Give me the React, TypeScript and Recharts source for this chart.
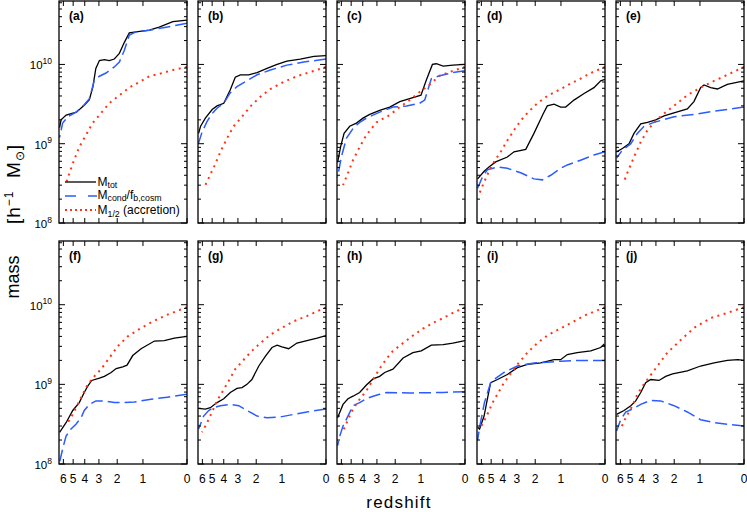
import React from 'react';
import { LineChart, Line, XAxis, YAxis } from 'recharts';

type Pt = [number, number]; // [redshift, mass in h^-1 Msun]

// ---------- tick values ----------
const zTicks = [6, 5, 4, 3, 2, 1, 0];
const massDecades = [1e8, 1e9, 1e10];
const minorMult = [2, 3, 4, 5, 6, 7, 8, 9];
const panelLabels = ['(a)', '(b)', '(c)', '(d)', '(e)', '(f)', '(g)', '(h)', '(i)', '(j)'];

// ---------- panel (a) ----------
const totA: Pt[] = [[6.43, 1.6e9], [6.26, 2.0e9], [5.7, 2.3e9], [4.7, 2.5e9], [4.0, 3.1e9], [3.65, 3.6e9], [3.4, 5.2e9], [3.2, 8.9e9], [2.97, 1.12e10], [2.67, 1.15e10], [2.4, 1.12e10], [2.14, 1.17e10], [1.9, 1.38e10], [1.68, 1.9e10], [1.48, 2.5e10], [1.23, 2.57e10], [0.81, 2.7e10], [0.55, 2.95e10], [0.25, 3.47e10], [0, 3.63e10]];
const condA: Pt[] = [[6.43, 1.2e9], [6.08, 1.82e9], [5.53, 2.19e9], [4.73, 2.5e9], [4.04, 3.1e9], [3.65, 3.7e9], [3.3, 6.3e9], [2.97, 7.1e9], [2.58, 7.8e9], [2.14, 9.3e9], [1.9, 1.07e10], [1.68, 1.51e10], [1.48, 2.34e10], [1.23, 2.57e10], [0.81, 2.7e10], [0.39, 2.95e10], [0, 3.3e10]];
const halfA: Pt[] = [[5.71, 3.2e8], [5.04, 5.6e8], [4.45, 9.1e8], [3.9, 1.29e9], [3.42, 1.82e9], [2.97, 2.3e9], [2.4, 3.24e9], [1.9, 4.07e9], [1.48, 5.1e9], [1.12, 6.0e9], [0.81, 7.1e9], [0.55, 7.6e9], [0.25, 8.5e9], [0, 9.3e9]];

// ---------- panel (b) ----------
const totB: Pt[] = [[6.43, 1.35e9], [6.2, 1.66e9], [5.68, 2.1e9], [5.0, 2.7e9], [4.56, 3.0e9], [4.0, 3.24e9], [3.51, 4.8e9], [3.17, 6.9e9], [2.85, 7.4e9], [2.38, 7.4e9], [1.96, 7.9e9], [1.53, 8.9e9], [1.16, 1.0e10], [0.85, 1.1e10], [0.5, 1.17e10], [0.21, 1.26e10], [0, 1.29e10]];
const condB: Pt[] = [[6.43, 1.02e9], [6.03, 1.41e9], [5.5, 1.91e9], [5.0, 2.4e9], [4.56, 2.8e9], [4.0, 3.24e9], [3.51, 4.4e9], [3.06, 5.25e9], [2.65, 5.9e9], [1.96, 7.4e9], [1.4, 8.5e9], [0.85, 9.8e9], [0.42, 1.07e10], [0, 1.17e10]];
const halfB: Pt[] = [[5.68, 3.0e8], [5.17, 4.1e8], [4.7, 5.6e8], [4.27, 7.9e8], [3.75, 1.17e9], [3.28, 1.66e9], [2.75, 2.19e9], [2.29, 2.95e9], [1.81, 3.9e9], [1.4, 4.9e9], [0.95, 6.0e9], [0.58, 7.1e9], [0.21, 8.3e9], [0, 9.3e9]];

// ---------- panel (c) ----------
const totC: Pt[] = [[6.43, 5.8e8], [6.1, 9.0e8], [5.71, 1.35e9], [5.14, 1.66e9], [4.52, 1.82e9], [3.98, 2.1e9], [3.48, 2.34e9], [2.83, 2.63e9], [2.27, 2.9e9], [1.79, 3.4e9], [1.39, 3.7e9], [1.0, 4.1e9], [0.84, 6.3e9], [0.67, 1.0e10], [0.57, 1.02e10], [0.41, 9.5e9], [0.21, 9.8e9], [0, 1.0e10]];
const condC: Pt[] = [[6.43, 3.8e8], [6.0, 6.8e8], [5.47, 1.17e9], [4.83, 1.55e9], [4.25, 1.86e9], [3.72, 2.1e9], [2.83, 2.5e9], [2.1, 2.9e9], [1.51, 3.0e9], [1.04, 3.24e9], [0.885, 3.55e9], [0.7, 6.6e9], [0.49, 7.2e9], [0.21, 7.9e9], [0, 8.3e9]];
const halfC: Pt[] = [[5.82, 3.0e8], [5.3, 4.3e8], [4.83, 6.2e8], [4.25, 9.1e8], [3.72, 1.29e9], [3.03, 1.86e9], [2.27, 2.3e9], [1.79, 2.9e9], [1.39, 3.55e9], [1.04, 4.5e9], [0.74, 5.6e9], [0.49, 7.2e9], [0.21, 8.3e9], [0, 9.3e9]];

// ---------- panel (d) ----------
const totD: Pt[] = [[6.43, 3.6e8], [5.7, 4.5e8], [5.21, 5.1e8], [4.59, 5.9e8], [3.65, 6.8e8], [3.19, 7.9e8], [2.48, 8.5e8], [2.06, 1.35e9], [1.64, 2.4e9], [1.48, 3.0e9], [1.23, 3.16e9], [1.01, 2.9e9], [0.857, 2.9e9], [0.63, 3.55e9], [0.39, 4.3e9], [0.19, 5.1e9], [0.07, 6.2e9], [0, 6.5e9]];
const condD: Pt[] = [[6.43, 2.75e8], [5.89, 3.8e8], [5.37, 4.7e8], [4.43, 5.1e8], [3.65, 4.9e8], [2.77, 4.3e8], [2.06, 3.6e8], [1.68, 3.5e8], [1.35, 4.0e8], [1.01, 4.9e8], [0.81, 5.4e8], [0.47, 6.2e8], [0.19, 7.2e8], [0, 7.9e8]];
const halfD: Pt[] = [[6.26, 2.3e8], [5.7, 3.3e8], [5.21, 4.5e8], [4.74, 5.9e8], [4.16, 7.9e8], [3.65, 1.1e9], [3.19, 1.48e9], [2.77, 1.95e9], [2.39, 2.45e9], [1.9, 3.24e9], [1.48, 4.0e9], [1.01, 4.9e9], [0.71, 5.75e9], [0.47, 6.6e9], [0.25, 7.8e9], [0, 9.3e9]];

// ---------- panel (e) ----------
const totE: Pt[] = [[6.43, 7.9e8], [5.78, 8.7e8], [5.11, 1.0e9], [4.65, 1.35e9], [4.08, 1.78e9], [3.57, 1.86e9], [3.01, 2.0e9], [2.52, 2.24e9], [2.01, 2.45e9], [1.44, 2.75e9], [1.2, 3.4e9], [0.98, 5.1e9], [0.875, 5.5e9], [0.69, 5.1e9], [0.52, 4.9e9], [0.3, 5.6e9], [0, 6.2e9]];
const condE: Pt[] = [[6.43, 6.6e8], [5.78, 8.3e8], [4.94, 1.0e9], [4.36, 1.35e9], [3.83, 1.66e9], [3.12, 1.86e9], [2.01, 2.19e9], [1.2, 2.34e9], [0.6, 2.57e9], [0.3, 2.7e9], [0, 2.9e9]];
const halfE: Pt[] = [[5.67, 3.2e8], [5.27, 4.3e8], [4.65, 6.8e8], [4.08, 1.05e9], [3.57, 1.48e9], [3.01, 1.95e9], [2.52, 2.4e9], [2.01, 3.0e9], [1.44, 4.1e9], [0.98, 5.1e9], [0.6, 6.2e9], [0.3, 7.4e9], [0, 9.3e9]];

// ---------- panel (f) ----------
const totF: Pt[] = [[6.43, 2.5e8], [5.71, 3.3e8], [5.04, 4.7e8], [4.45, 5.9e8], [4.04, 7.9e8], [3.77, 9.5e8], [3.48, 1.12e9], [2.97, 1.2e9], [2.67, 1.26e9], [2.3, 1.41e9], [2.05, 1.58e9], [1.75, 1.66e9], [1.57, 1.74e9], [1.35, 2.3e9], [1.06, 2.8e9], [0.67, 3.5e9], [0.43, 3.55e9], [0.22, 3.8e9], [0, 4.0e9]];
const condF: Pt[] = [[6.43, 1.05e8], [6.08, 1.55e8], [5.71, 2.24e8], [5.21, 2.75e8], [4.74, 3.16e8], [4.3, 3.8e8], [4.04, 4.7e8], [3.65, 5.6e8], [3.19, 6.2e8], [2.67, 6.2e8], [2.14, 5.9e8], [1.68, 5.9e8], [1.29, 6.0e8], [0.76, 6.5e8], [0.36, 6.9e8], [0, 7.5e8]];
const halfF: Pt[] = [[5.53, 3.3e8], [5.04, 4.2e8], [4.59, 5.6e8], [4.16, 7.5e8], [3.77, 1.0e9], [3.3, 1.26e9], [2.87, 1.55e9], [2.4, 2.14e9], [1.98, 3.0e9], [1.54, 4.0e9], [1.06, 5.1e9], [0.67, 6.3e9], [0.36, 7.5e9], [0, 9.3e9]];

// ---------- panel (g) ----------
const totG: Pt[] = [[6.43, 5.0e8], [5.68, 4.9e8], [5.17, 5.1e8], [4.56, 5.9e8], [4.0, 6.6e8], [3.51, 7.9e8], [3.06, 8.9e8], [2.75, 9.1e8], [2.47, 1.0e9], [2.21, 1.15e9], [1.88, 1.7e9], [1.6, 2.24e9], [1.34, 2.9e9], [1.16, 3.1e9], [1.0, 2.95e9], [0.8, 2.8e9], [0.58, 3.3e9], [0.35, 3.55e9], [0.15, 3.8e9], [0, 4.1e9]];
const condG: Pt[] = [[6.43, 2.75e8], [5.86, 4.0e8], [5.34, 4.7e8], [4.86, 5.1e8], [4.27, 5.4e8], [3.51, 5.6e8], [2.95, 5.4e8], [2.47, 4.7e8], [1.96, 4.0e8], [1.53, 3.8e8], [1.05, 3.9e8], [0.66, 4.2e8], [0.35, 4.5e8], [0, 4.9e8]];
const halfG: Pt[] = [[6.03, 2.5e8], [5.5, 3.3e8], [5.01, 4.5e8], [4.56, 6.2e8], [4.14, 7.9e8], [3.63, 1.1e9], [3.17, 1.55e9], [2.65, 2.04e9], [2.21, 2.63e9], [1.81, 3.3e9], [1.4, 4.2e9], [1.05, 5.0e9], [0.66, 6.2e9], [0.35, 7.2e9], [0, 9.3e9]];

// ---------- panel (h) ----------
const totH: Pt[] = [[6.43, 3.8e8], [5.82, 5.6e8], [5.31, 6.6e8], [4.83, 7.1e8], [4.25, 7.9e8], [3.72, 9.8e8], [3.25, 1.17e9], [2.83, 1.26e9], [2.54, 1.41e9], [2.11, 1.55e9], [1.65, 2.14e9], [1.27, 2.5e9], [0.99, 2.63e9], [0.7, 3.1e9], [0.41, 3.16e9], [0.21, 3.3e9], [0, 3.55e9]];
const condH: Pt[] = [[6.43, 1.7e8], [6.18, 2.24e8], [5.82, 3.0e8], [5.31, 4.0e8], [4.83, 5.4e8], [4.25, 5.9e8], [3.72, 6.6e8], [3.25, 7.1e8], [2.83, 7.5e8], [2.44, 7.9e8], [1.39, 7.8e8], [0.41, 7.9e8], [0, 8.1e8]];
const halfH: Pt[] = [[5.82, 2.6e8], [5.31, 3.6e8], [4.83, 4.9e8], [4.25, 6.5e8], [3.72, 8.3e8], [3.25, 1.15e9], [2.83, 1.58e9], [2.44, 2.1e9], [2.11, 2.63e9], [1.65, 3.3e9], [1.27, 4.1e9], [0.94, 5.0e9], [0.66, 5.9e9], [0.41, 6.8e9], [0.21, 7.9e9], [0, 9.3e9]];

// ---------- panel (i) ----------
const totI: Pt[] = [[6.43, 2.9e8], [6.2, 2.75e8], [5.71, 4.0e8], [5.44, 5.9e8], [5.05, 1.05e9], [4.43, 1.15e9], [3.65, 1.33e9], [2.97, 1.62e9], [2.39, 1.78e9], [1.75, 1.86e9], [1.23, 2.04e9], [1.01, 2.04e9], [0.81, 2.37e9], [0.55, 2.5e9], [0.25, 2.63e9], [0.07, 2.9e9], [0.02, 3.16e9], [0, 3.0e9]];
const condI: Pt[] = [[6.43, 2.0e8], [6.2, 2.9e8], [5.67, 5.9e8], [5.05, 1.05e9], [4.74, 1.15e9], [3.9, 1.41e9], [2.97, 1.7e9], [2.05, 1.86e9], [1.48, 1.9e9], [1.01, 1.95e9], [0.47, 2.0e9], [0, 2.0e9]];
const halfI: Pt[] = [[6.0, 3.0e8], [5.44, 4.0e8], [4.87, 5.9e8], [3.9, 1.05e9], [2.97, 1.78e9], [2.39, 2.5e9], [1.9, 3.3e9], [1.48, 4.1e9], [1.17, 4.7e9], [0.71, 5.9e9], [0.36, 7.4e9], [0, 9.3e9]];

// ---------- panel (j) ----------
const totJ: Pt[] = [[6.43, 4.2e8], [5.61, 4.7e8], [4.94, 5.4e8], [4.5, 6.2e8], [4.08, 7.9e8], [3.7, 1.05e9], [3.34, 1.15e9], [2.81, 1.12e9], [2.43, 1.26e9], [2.08, 1.35e9], [1.44, 1.48e9], [0.98, 1.7e9], [0.6, 1.86e9], [0.3, 2.0e9], [0.1, 2.04e9], [0, 2.0e9]];
const condJ: Pt[] = [[6.43, 2.6e8], [5.97, 3.6e8], [5.44, 4.5e8], [4.79, 4.9e8], [4.08, 5.6e8], [3.34, 6.3e8], [2.71, 6.2e8], [2.01, 5.4e8], [1.44, 4.5e8], [0.98, 3.6e8], [0.6, 3.3e8], [0.3, 3.16e8], [0, 3.0e8]];
const halfJ: Pt[] = [[5.97, 2.75e8], [5.44, 3.8e8], [4.79, 5.4e8], [4.36, 7.5e8], [3.94, 9.5e8], [3.57, 1.15e9], [2.91, 1.7e9], [2.34, 2.5e9], [1.71, 3.6e9], [1.2, 5.1e9], [0.69, 6.8e9], [0.3, 7.9e9], [0, 9.3e9]];

const totAll = [totA, totB, totC, totD, totE, totF, totG, totH, totI, totJ];
const condAll = [condA, condB, condC, condD, condE, condF, condG, condH, condI, condJ];
const halfAll = [halfA, halfB, halfC, halfD, halfE, halfF, halfG, halfH, halfI, halfJ];

// ---------- layout / style ----------
const FONT = '"Liberation Sans", Arial, Helvetica, sans-serif';
const COLS = [59, 198, 337, 477, 616];
const ROWS = [{ top: 1, h: 222 }, { top: 241, h: 223 }];
const PW = 128;
const X_MAX = 0.875; // log10(1+z) at left edge
const M_MIN = 1e8;
const M_MAX = Math.pow(10, 10.8);
const C_TOT = '#000000';
const C_COND = '#2b5cff';
const C_HALF = '#ff3414';

const xTickVals = zTicks.map((z) => Math.log10(1 + z));
const yTickVals: number[] = [];
massDecades.forEach((d) => {
  yTickVals.push(d);
  minorMult.forEach((m) => {
    if (d * m <= M_MAX) yTickVals.push(d * m);
  });
});

function buildRows(i: number) {
  const rows: any[] = [];
  totAll[i].forEach(([z, m]) => rows.push({ x: Math.log10(1 + z), tot: m }));
  condAll[i].forEach(([z, m]) => rows.push({ x: Math.log10(1 + z), cond: m }));
  halfAll[i].forEach(([z, m]) => rows.push({ x: Math.log10(1 + z), half: m }));
  rows.sort((a, b) => a.x - b.x);
  return rows;
}

const XTick = (props: any) => {
  const { x, y, payload, h, showLabel } = props;
  const z = Math.round(Math.pow(10, payload.value) - 1);
  return (
    <g>
      <line x1={x} y1={y} x2={x} y2={y - 5} stroke="#000" strokeWidth={1} />
      <line x1={x} y1={y - h} x2={x} y2={y - h + 5} stroke="#000" strokeWidth={1} />
      {showLabel && (
        <text x={x} y={y + 18.5} textAnchor="middle" fontSize={12} fontFamily={FONT} fill="#000">
          {z}
        </text>
      )}
    </g>
  );
};

const YTick = (props: any) => {
  const { x, y, payload, w, showLabel } = props;
  const lg = Math.log10(payload.value);
  const e = Math.round(lg);
  const major = Math.abs(lg - e) < 1e-6;
  const len = major ? 6 : 3;
  return (
    <g>
      <line x1={x} y1={y} x2={x + len} y2={y} stroke="#000" strokeWidth={1} />
      <line x1={x + w} y1={y} x2={x + w - len} y2={y} stroke="#000" strokeWidth={1} />
      {major && showLabel && (
        <text x={x - 7} y={y + 5} textAnchor="end" fontSize={11.5} fontFamily={FONT} fill="#000">
          10
          <tspan dy={-5.5} fontSize={8.5}>{e}</tspan>
        </text>
      )}
    </g>
  );
};

function Panel({ i }: { i: number }) {
  const col = i % 5;
  const row = Math.floor(i / 5);
  const { top, h } = ROWS[row];
  const left = COLS[col];
  // 1px axis strip on the left and bottom so the axes render; plot area = panel rect
  return (
    <div style={{ position: 'absolute', left: left - 1, top, width: PW + 1, height: h + 1 }}>
      <LineChart width={PW + 1} height={h + 1} data={buildRows(i)} margin={{ top: 0, right: 0, bottom: 0, left: 0 }}>
        <XAxis
          dataKey="x"
          type="number"
          domain={[0, X_MAX]}
          reversed
          allowDataOverflow
          ticks={xTickVals}
          interval={0}
          height={1}
          tickSize={0}
          tickMargin={0}
          axisLine={false}
          tickLine={false}
          tick={(tp: any) => <XTick {...tp} h={h} showLabel={row === 1} />}
        />
        <YAxis
          type="number"
          scale="log"
          domain={[M_MIN, M_MAX]}
          allowDataOverflow
          ticks={yTickVals}
          interval={0}
          width={1}
          tickSize={0}
          tickMargin={0}
          axisLine={false}
          tickLine={false}
          tick={(tp: any) => <YTick {...tp} w={PW} showLabel={col === 0} />}
        />
        <Line dataKey="tot" stroke={C_TOT} strokeWidth={1.3} dot={false} connectNulls isAnimationActive={false} />
        <Line dataKey="cond" stroke={C_COND} strokeWidth={1.5} strokeDasharray="12 5" dot={false} connectNulls isAnimationActive={false} />
        <Line dataKey="half" stroke={C_HALF} strokeWidth={2} strokeDasharray="2 4.5" dot={false} connectNulls isAnimationActive={false} />
      </LineChart>
    </div>
  );
}

function Overlay() {
  const lx = COLS[0];
  const ly = ROWS[0].top;
  return (
    <svg width={747} height={512} style={{ position: 'absolute', left: 0, top: 0, pointerEvents: 'none' }} fontFamily={FONT}>
      {panelLabels.map((lab, i) => {
        const col = i % 5;
        const row = Math.floor(i / 5);
        const { top, h } = ROWS[row];
        const left = COLS[col];
        return (
          <g key={lab}>
            <rect x={left} y={top} width={PW} height={h} fill="none" stroke="#000" strokeWidth={1.3} />
            <text x={left + 10} y={top + 19} fontSize={12} fontWeight="bold" fill="#000">{lab}</text>
          </g>
        );
      })}
      {/* legend in panel (a) */}
      <line x1={lx + 6} y1={ly + 181} x2={lx + 37} y2={ly + 181} stroke={C_TOT} strokeWidth={1.3} />
      <line x1={lx + 6} y1={ly + 195} x2={lx + 38} y2={ly + 195} stroke={C_COND} strokeWidth={1.5} strokeDasharray="11 12" />
      <line x1={lx + 6} y1={ly + 209} x2={lx + 37} y2={ly + 209} stroke={C_HALF} strokeWidth={2} strokeDasharray="2 3" />
      <text x={lx + 38.5} y={ly + 184.5} fontSize={12} fill="#000">
        M<tspan dy={2} fontSize={8.8}>tot</tspan>
      </text>
      <text x={lx + 38.5} y={ly + 198} fontSize={12} fill="#000">
        M<tspan dy={2} fontSize={8.8}>cond</tspan>
        <tspan dy={-2}>/f</tspan>
        <tspan dy={2} fontSize={8.8}>b,cosm</tspan>
      </text>
      <text x={lx + 38.5} y={ly + 213} fontSize={12} fill="#000">
        M<tspan dy={2.5} fontSize={8.8}>1/2</tspan>
        <tspan dy={-2.5}> (accretion)</tspan>
      </text>
      {/* axis titles */}
      <text x={399} y={508} textAnchor="middle" fontSize={17} letterSpacing={1.2} fill="#000">redshift</text>
      <text x={18.5} y={277} textAnchor="middle" fontSize={18} fill="#000" transform="rotate(-90 18.5 277)">mass</text>
      <text x={19.5} y={184} textAnchor="middle" fontSize={19} letterSpacing={1} fill="#000" transform="rotate(-90 19.5 184)">
        [h<tspan dy={-7} fontSize={12}>−1</tspan>
        <tspan dy={7}>{'\u00a0\u00a0M'}</tspan>
        <tspan dy={4} fontSize={12}>⊙</tspan>
        <tspan dy={-4}>]</tspan>
      </text>
    </svg>
  );
}

export default function App() {
  return (
    <div style={{ position: 'absolute', left: 0, top: 0, width: 747, height: 512, background: '#fff', fontFamily: FONT }}>
      <style>{`.recharts-surface{overflow:visible}`}</style>
      {panelLabels.map((_, i) => (
        <Panel key={i} i={i} />
      ))}
      <Overlay />
    </div>
  );
}
